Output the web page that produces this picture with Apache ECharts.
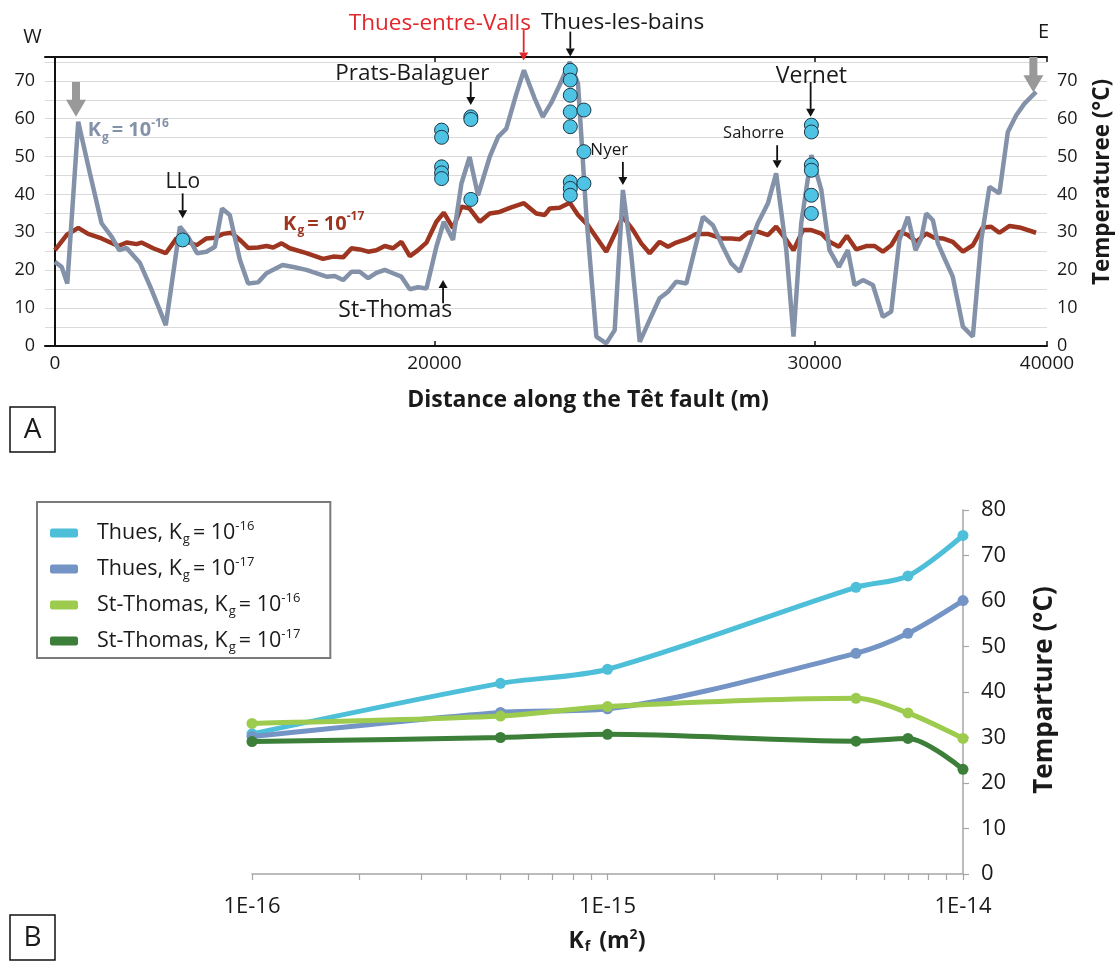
<!DOCTYPE html>
<html>
<head>
<meta charset="utf-8">
<script src="https://cdn.jsdelivr.net/npm/echarts@6/dist/echarts.min.js"></script>
<style>html,body{margin:0;padding:0;background:#fff}#c{width:1119px;height:963px}</style>
</head>
<body>
<div id="c"></div>
<script>
// ---------------- Panel A data ----------------
// Modelled temperature along the fault, Kg = 1e-16 (grey-blue line)
const kg16Dist = [0,270,500,940,1410,1880,2290,2590,2890,3430,3900,4470,5040,5370,5730,6110,6450,6740,7050,7460,7790,8190,8530,8800,9180,9660,10140,10950,11280,11620,11960,12290,12630,12960,13300,13630,13970,14310,14640,14980,15380,15680,16050,16390,16720,17060,17530,17870,18200,18610,18910,19340,19670,20020,20350,20760,21090,21430,21830,22230,22570,22900,23240,23580,23980,24380,24720,25050,25460,25790,26130,26530,26930,27270,27610,27940,28340,28750,29080,29490,29780,30090,30500,30900,31230,31610,31970,32240,32580,32980,33380,33720,34050,34390,34700,34930,35130,35400,35600,35870,36200,36610,37010,37350,37680,38080,38420,38760,39090,39560];
const kg16Temp = [22.2,20.9,16.5,59.2,45.6,32.4,28.8,25.3,25.9,21.9,14.8,5.5,31.5,28.8,24.5,24.9,26.2,36.3,34.6,22.7,16.5,16.8,19.2,20.1,21.4,20.8,20.1,18.3,18.5,17.4,19.6,19.6,17.9,19.3,20.1,19.2,18.3,15.0,15.5,15.2,26.2,32.8,28.0,42.9,49.9,39.8,49.9,55.2,57.4,66.7,72.8,65.4,60.5,64.3,68.9,75.0,69.3,34.1,2.5,0.7,4.2,41.2,24.0,1.1,6.9,12.6,14.3,17.0,16.5,25.3,34.1,31.9,26.2,21.8,19.6,25.3,32.4,37.7,45.6,25.3,2.5,32.4,50.4,41.2,25.3,20.9,25.3,16.1,17.4,16.1,7.7,9.1,28.0,34.1,25.3,28.4,35.0,33.2,27.1,23.1,18.3,5.1,2.5,28.0,42.0,40.3,56.5,60.9,64.0,67.1];
// Modelled temperature along the fault, Kg = 1e-17 (brown line)
const kg17Dist = [0,470,940,1340,1880,2550,2890,3290,3490,3960,4470,4900,5150,5710,6110,6450,6780,7120,7460,7790,8190,8530,8800,9140,9470,10140,10810,11220,11620,11960,12290,12630,12960,13300,13630,13970,14310,14640,14980,15380,15680,16050,16390,16720,17130,17530,17930,18400,18910,19410,19750,19950,20350,20760,21090,21490,22230,22900,23310,23640,23980,24380,24720,25050,25460,25860,26330,26870,27270,27610,27940,28340,28750,29080,29490,29780,30160,30500,30900,31230,31610,31930,32310,32710,33050,33380,33720,34050,34390,34730,35130,35460,35800,36200,36610,37010,37410,37750,38080,38490,38890,39560];
const kg17Temp = [25.3,29.3,31.2,29.6,28.4,26.4,27.3,26.9,27.3,25.8,24.5,28.4,28.0,26.6,28.4,28.6,29.6,29.9,28.0,25.9,26.0,26.4,26.0,27.1,25.8,24.5,23.0,23.6,23.4,25.8,25.5,24.9,25.3,26.4,25.8,27.5,23.7,25.3,27.3,32.8,35.2,31.1,36.8,36.3,32.8,35.0,35.4,36.6,37.7,35.0,34.6,36.3,36.5,37.8,34.6,31.9,24.9,34.1,30.6,27.1,24.5,27.5,26.2,27.3,28.2,29.6,29.6,28.4,28.4,28.2,29.9,30.2,29.3,31.5,28.0,25.3,30.6,30.6,29.7,27.5,26.2,29.1,25.5,26.4,26.4,24.9,26.6,30.2,29.3,27.5,29.7,28.6,28.4,27.5,24.9,26.6,31.3,31.5,29.9,31.7,31.3,29.9];
// Measured hot spring temperatures (blue dots)
const springDist = [5150,15590,15590,15590,15590,15590,16770,16770,16770,20780,20780,20780,20780,20780,20780,20780,20780,21330,21330,21330,30500,30500,30500,30500,30500,30500];
const springTemp = [28.0,57.0,55.1,47.3,45.7,44.2,60.5,59.8,38.7,72.8,70.2,66.2,61.8,57.9,43.3,41.6,39.8,62.3,51.3,42.9,58.3,56.5,47.8,46.4,39.8,35.0];
// Distance axis tick positions and their printed labels
const distTickValues = [0, 15300, 30630, 40000];
const distTickLabels = ['0', '20000', '30000', '40000'];

// ---------------- Panel B data ----------------
const kf = [1e-16, 5e-16, 1e-15, 5e-15, 7e-15, 1e-14];
const thuesKg16 = [30.8, 41.9, 45.0, 63.0, 65.5, 74.4];
const thuesKg17 = [30.2, 35.5, 36.3, 48.5, 52.9, 60.1];
const stThomasKg16 = [33.1, 34.7, 36.8, 38.6, 35.4, 29.8];
const stThomasKg17 = [29.1, 30.0, 30.7, 29.2, 29.8, 23.0];
const bottomSeriesNames = ['Thues, Kg = 10-16', 'Thues, Kg = 10-17', 'St-Thomas, Kg = 10-16', 'St-Thomas, Kg = 10-17'];
const bottomSites = ['Thues', 'Thues', 'St-Thomas', 'St-Thomas'];
const bottomKgExp = ['-16', '-17', '-16', '-17'];
const kfTickValues = [1e-16, 1e-15, 1e-14];
const kfTickLabels = ['1E-16', '1E-15', '1E-14'];
const kfMinorTickValues = [1e-16,2e-16,3e-16,4e-16,5e-16,6e-16,7e-16,8e-16,9e-16,1e-15,2e-15,3e-15,4e-15,5e-15,6e-15,7e-15,8e-15,9e-15,1e-14];

// ---------------- styling ----------------
const FONT = '"Open Sans", "Liberation Sans", sans-serif';
const TXT = '#1a1a1a';
const GREY_LINE = '#8492a9';
const BROWN = '#9d3520';
const HOT = '#4ec3e3';
const RED = '#e3262b';
const bottomColors = ['#4dbfd8', '#7494c6', '#9ccb4e', '#3b7f38'];

const zip = (a, b) => a.map((v, i) => [v, b[i]]);
const bottomValues = [thuesKg16, thuesKg17, stThomasKg16, stThomasKg17];

// rich styles for K_g / K_f texts; colorKey is 'color' for echarts labels, 'fill' for graphic texts
const subRich = (size, color, weight, colorKey) => {
  const base = (fs, lh, va, pad) => {
    const o = { fontSize: fs, fontFamily: FONT, fontWeight: weight, lineHeight: lh, verticalAlign: va };
    if (pad) o.padding = pad;
    o[colorKey] = color;
    return o;
  };
  const small = Math.round(size * 0.62);
  return {
    t: base(size, 26, 'middle'),
    f: base(size, 26, 'middle', [0, 0, 0, 14]),
    sub: base(small, 12, 'bottom', [0, 3, 0, 1]),
    sup: base(small, 12, 'top')
  };
};

const chart = echarts.init(document.getElementById('c'), null, { renderer: 'canvas' });

const option = {
  animation: false,
  backgroundColor: '#fff',
  textStyle: { fontFamily: FONT },
  grid: [
    { left: 45, right: 72, top: 57, bottom: 617, outerBoundsMode: 'none' },
    { left: 252, right: 156, top: 510, bottom: 89, outerBoundsMode: 'none' }
  ],
  xAxis: [
    {
      type: 'value', gridIndex: 0, min: -400, max: 40000, position: 'bottom',
      axisLine: { show: true, onZero: false, lineStyle: { color: '#111', width: 2 } },
      axisTick: { show: true, inside: true, length: 5, customValues: distTickValues, lineStyle: { color: '#111', width: 1.5 } },
      axisLabel: {
        customValues: distTickValues, color: TXT, fontSize: 19, margin: 8,
        formatter: v => { const i = distTickValues.indexOf(v); return i >= 0 ? distTickLabels[i] : ''; }
      },
      splitLine: { show: false }
    },
    {
      type: 'value', gridIndex: 0, min: -400, max: 40000, position: 'top',
      axisLine: { show: true, onZero: false, lineStyle: { color: '#111', width: 2 } },
      axisTick: { show: true, inside: true, length: 5, customValues: distTickValues, lineStyle: { color: '#111', width: 1.5 } },
      axisLabel: { show: false },
      splitLine: { show: false }
    },
    {
      type: 'log', logBase: 10, gridIndex: 1, min: 1e-16, max: 1e-14,
      axisLine: { show: true, onZero: false, lineStyle: { color: '#a6a6a6', width: 1.5 } },
      axisTick: { show: true, inside: false, length: 6, customValues: kfMinorTickValues, lineStyle: { color: '#a6a6a6', width: 1.2 } },
      axisLabel: {
        customValues: kfTickValues, color: TXT, fontSize: 22, margin: 22,
        formatter: v => {
          let idx = -1;
          kfTickValues.forEach((t, i) => { if (Math.abs(v / t - 1) < 1e-6) idx = i; });
          return idx >= 0 ? kfTickLabels[idx] : '';
        }
      },
      splitLine: { show: false },
      minorTick: { show: false }
    }
  ],
  yAxis: [
    {
      type: 'value', gridIndex: 0, min: 0, max: 76.3, interval: 5, position: 'left',
      axisLine: { show: true, lineStyle: { color: '#111', width: 2 } },
      axisTick: { show: false },
      axisLabel: { color: TXT, fontSize: 18, margin: 10, formatter: v => (v % 10 === 0 ? String(v) : '') },
      splitLine: { show: true, lineStyle: { color: '#dadada', width: 1 } }
    },
    {
      type: 'value', gridIndex: 0, min: 0, max: 76.3, interval: 5, position: 'right',
      axisLine: { show: true, lineStyle: { color: '#111', width: 2 } },
      axisTick: { show: false },
      axisLabel: { color: TXT, fontSize: 18, margin: 10, formatter: v => (v % 10 === 0 ? String(v) : '') },
      splitLine: { show: false }
    },
    {
      type: 'value', gridIndex: 1, min: 0, max: 80, interval: 10, position: 'right',
      axisLine: { show: true, lineStyle: { color: '#a6a6a6', width: 1.5 } },
      axisTick: { show: true, inside: false, length: 6, lineStyle: { color: '#a6a6a6', width: 1.2 } },
      axisLabel: { color: TXT, fontSize: 22, margin: 18 },
      splitLine: { show: false }
    }
  ],
  legend: {
    orient: 'vertical', left: 37, top: 502,
    padding: [18, 30, 4, 13], itemGap: 10,
    itemWidth: 28, itemHeight: 9, icon: 'roundRect',
    borderColor: '#7a7a7a', borderWidth: 2,
    data: bottomSeriesNames,
    selectedMode: false,
    formatter: name => {
      const i = bottomSeriesNames.indexOf(name);
      return '{f|' + bottomSites[i] + ', K}{sub|g}{t|= 10}{sup|' + bottomKgExp[i] + '}';
    },
    textStyle: { rich: subRich(21.5, TXT, 'normal', 'color') }
  },
  series: [
    {
      name: 'Kg 1e-17 profile', type: 'line', xAxisIndex: 0, yAxisIndex: 0,
      data: zip(kg17Dist, kg17Temp), symbol: 'none',
      lineStyle: { color: BROWN, width: 4.5 }, z: 3
    },
    {
      name: 'Kg 1e-16 profile', type: 'line', xAxisIndex: 0, yAxisIndex: 0,
      data: zip(kg16Dist, kg16Temp), symbol: 'none',
      lineStyle: { color: GREY_LINE, width: 4.5 }, z: 4
    },
    {
      name: 'Hot springs', type: 'scatter', xAxisIndex: 0, yAxisIndex: 0,
      data: zip(springDist, springTemp), symbol: 'circle', symbolSize: 14,
      itemStyle: { color: HOT, borderColor: '#1d3645', borderWidth: 1, opacity: 1 }, z: 5
    }
  ].concat(bottomSeriesNames.map((name, i) => ({
    name: name, type: 'line', xAxisIndex: 2, yAxisIndex: 2,
    data: zip(kf, bottomValues[i]), smooth: 0.3,
    symbol: 'circle', symbolSize: 11, showSymbol: true,
    lineStyle: { color: bottomColors[i], width: 5 },
    itemStyle: { color: bottomColors[i] }, z: 3 + i
  })))
};

chart.setOption(option);

// ---------------- annotations (placed in data coordinates of panel A) ----------------
const P = (d, t) => chart.convertToPixel({ xAxisIndex: 0, yAxisIndex: 0 }, [d, t]);

const placeLabels = [
  { text: 'Thues-entre-Valls', d: 15520, t: 85.2, color: RED, size: 22.5 },
  { text: 'Thues-les-bains', d: 22890, t: 85.5, color: TXT, size: 22.5 },
  { text: 'Prats-Balaguer', d: 14410, t: 71.9, color: TXT, size: 22.5 },
  { text: 'Vernet', d: 30500, t: 71.1, color: TXT, size: 23 },
  { text: 'LLo', d: 5160, t: 43.4, color: TXT, size: 21 },
  { text: 'Nyer', d: 22350, t: 51.7, color: TXT, size: 17 },
  { text: 'Sahorre', d: 28170, t: 56.1, color: TXT, size: 16.5 },
  { text: 'St-Thomas', d: 13720, t: 9.5, color: TXT, size: 23 },
  { text: 'W', d: -907, t: 81.6, color: TXT, size: 20 },
  { text: 'E', d: 39860, t: 82.9, color: TXT, size: 20 }
];
// [distance, temp at tail, temp at tip, colour]
const thinArrows = [
  [18900, 83.4, 75.4, RED],
  [20780, 83.0, 76.4, '#111'],
  [16765, 69.7, 63.6, '#111'],
  [30470, 69.7, 60.5, '#111'],
  [5150, 40.3, 33.7, '#111'],
  [22900, 48.6, 42.5, '#111'],
  [29120, 53.0, 46.9, '#111'],
  [15650, 11.3, 17.4, '#111']
];
const bigArrows = [
  [850, 69.7, 60.5],
  [39450, 76.3, 67.0]
];
const kgLabels = [
  { d: 1320, t: 57.0, exp: '-16', color: GREY_LINE },
  { d: 9200, t: 32.2, exp: '-17', color: BROWN }
];

const g = [];
placeLabels.forEach(l => {
  const [x, y] = P(l.d, l.t);
  g.push({ type: 'text', x: x, y: y, z: 100,
    style: { text: l.text, fill: l.color, fontSize: l.size, fontFamily: FONT, align: 'center', verticalAlign: 'middle' } });
});
thinArrows.forEach(a => {
  const [x, y1] = P(a[0], a[1]);
  const y2 = P(a[0], a[2])[1];
  const dir = y2 > y1 ? 1 : -1, hl = 8, hw = 4.5;
  g.push({ type: 'line', z: 100, shape: { x1: x, y1: y1, x2: x, y2: y2 - dir * hl }, style: { stroke: a[3], lineWidth: 1.8 } });
  g.push({ type: 'polygon', z: 100, shape: { points: [[x - hw, y2 - dir * hl], [x + hw, y2 - dir * hl], [x, y2]] }, style: { fill: a[3] } });
});
bigArrows.forEach(a => {
  const [x, y1] = P(a[0], a[1]);
  const y2 = P(a[0], a[2])[1];
  const hl = 17, hw = 10;
  g.push({ type: 'rect', z: 100, shape: { x: x - 4, y: y1, width: 8, height: y2 - hl - y1 + 1 }, style: { fill: '#999' } });
  g.push({ type: 'polygon', z: 100, shape: { points: [[x - hw, y2 - hl], [x + hw, y2 - hl], [x, y2]] }, style: { fill: '#999' } });
});
kgLabels.forEach(k => {
  const [x, y] = P(k.d, k.t);
  g.push({ type: 'text', x: x, y: y, z: 100,
    style: { text: '{t|K}{sub|g}{t|= 10}{sup|' + k.exp + '}', rich: subRich(20, k.color, 'bold', 'fill'), fill: k.color, align: 'left', verticalAlign: 'middle' } });
});

// axis titles and panel letters
g.push({ type: 'text', x: 588, y: 400, z: 100,
  style: { text: 'Distance along the Têt fault (m)', fill: TXT, fontSize: 23, fontWeight: 'bold', fontFamily: FONT, align: 'center', verticalAlign: 'middle' } });
g.push({ type: 'text', x: 1103, y: 182, rotation: Math.PI / 2, z: 100,
  style: { text: 'Temperaturee (°C)', fill: TXT, fontSize: 22.5, fontWeight: 'bold', fontFamily: FONT, align: 'center', verticalAlign: 'middle' } });
g.push({ type: 'text', x: 1045, y: 690, rotation: Math.PI / 2, z: 100,
  style: { text: 'Temparture (°C)', fill: TXT, fontSize: 26, fontWeight: 'bold', fontFamily: FONT, align: 'center', verticalAlign: 'middle' } });
g.push({ type: 'text', x: 607, y: 941, z: 100,
  style: { text: '{t|K}{sub|f}{t| (m}{sup|2}{t|)}', rich: subRich(23, TXT, 'bold', 'fill'), fill: TXT, align: 'center', verticalAlign: 'middle' } });
[['A', 407], ['B', 915]].forEach(([s, top]) => {
  g.push({ type: 'rect', z: 100, shape: { x: 10, y: top, width: 45, height: 45 }, style: { fill: 'none', stroke: '#111', lineWidth: 1.5 } });
  g.push({ type: 'text', x: 32.5, y: top + 23, z: 100,
    style: { text: s, fill: TXT, fontSize: 28, fontFamily: FONT, align: 'center', verticalAlign: 'middle' } });
});

chart.setOption({ graphic: g });
</script>
</body>
</html>
